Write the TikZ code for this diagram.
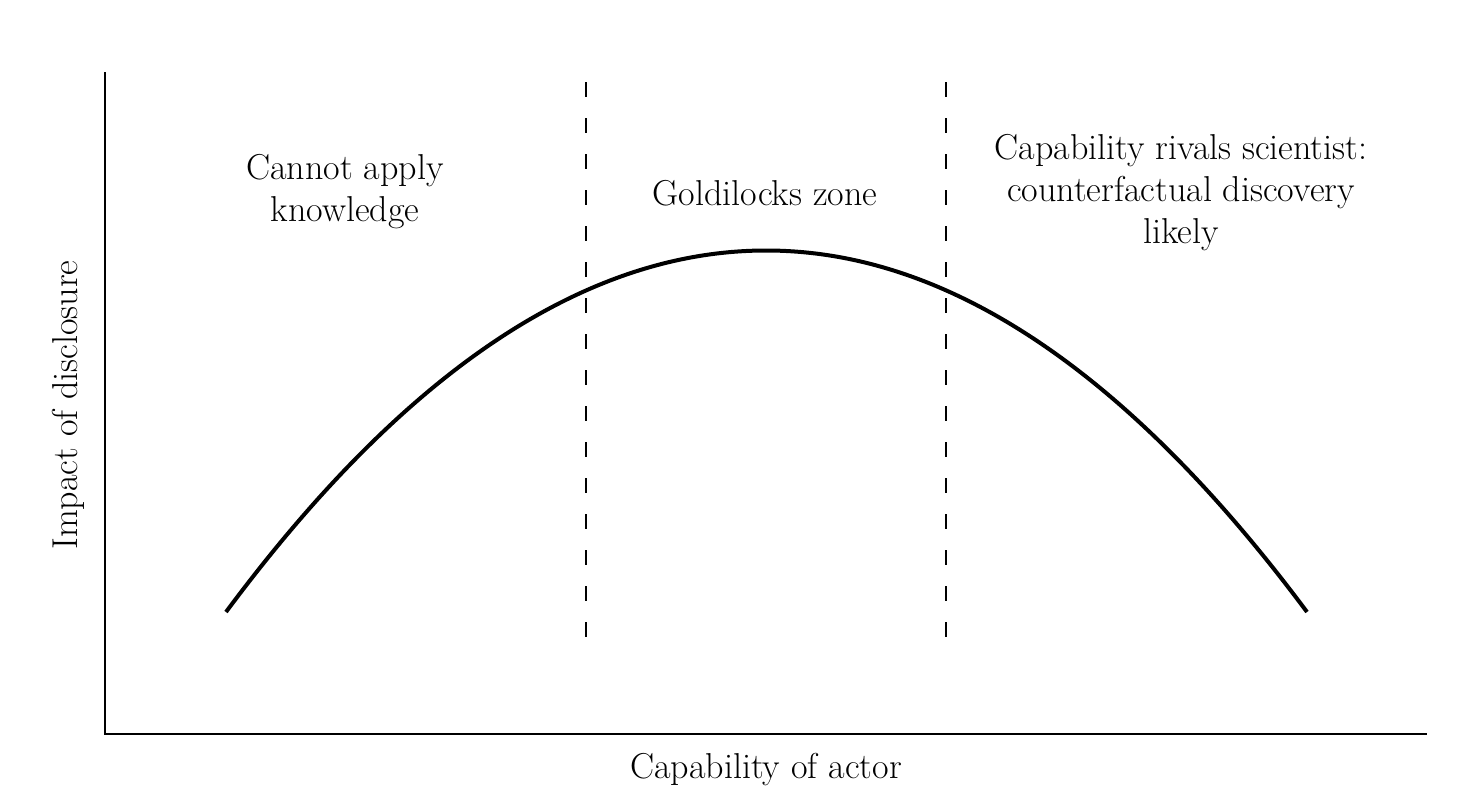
\documentclass[tikz,border=0pt]{standalone}
\usepackage{fontspec}
\begin{document}
\begin{tikzpicture}[x=1pt,y=-1pt,
  lbl/.style={font=\fontsize{36}{42}\selectfont, align=center, inner sep=0pt},
  axisline/.style={line width=2pt, line cap=rect},
  zoneline/.style={line width=2pt, dash pattern=on 15pt off 21pt},
  curveline/.style={line width=4pt}]
\useasboundingbox (0,0) rectangle (1480,806);
\coordinate (top) at (105,73);
\coordinate (origin) at (105,734);
\coordinate (right) at (1426,734);
\draw[axisline] (top) -- (origin) -- (right);
\coordinate (d1t) at (586,82);
\coordinate (d1b) at (586,638);
\coordinate (d2t) at (946,82);
\coordinate (d2b) at (946,638);
\draw[zoneline] (d1t) -- (d1b);
\draw[zoneline] (d2t) -- (d2b);
\coordinate (cs) at (226,612);
\coordinate (ce) at (1307,612);
\draw[curveline] (cs) .. controls (584,130) and (948,130) .. (ce);
\node[lbl, anchor=base] (cannot) at (345,221) {Cannot apply\\knowledge};
\node[lbl, anchor=base] (gold) at (765,205) {Goldilocks zone};
\node[lbl, anchor=base] (rivals) at (1181,243) {Capability rivals scientist:\\counterfactual discovery\\likely};
\node[lbl, anchor=base] (xlab) at (766,778) {Capability of actor};
\node[lbl, anchor=base, rotate=90] (ylab) at (77,405) {Impact of disclosure};
\end{tikzpicture}
\end{document}
